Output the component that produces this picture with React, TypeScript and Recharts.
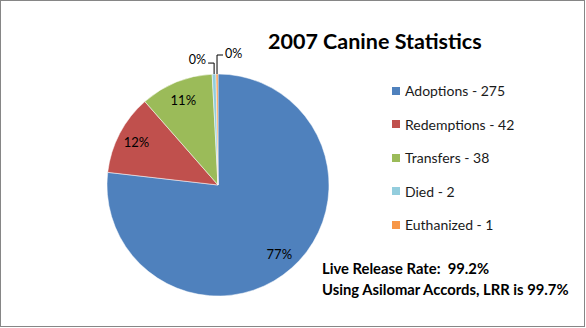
import React from 'react';
import { PieChart, Pie, Cell, Legend } from 'recharts';

const categories = ['Adoptions', 'Redemptions', 'Transfers', 'Died', 'Euthanized'];
const counts = [275, 42, 38, 2, 1];
const pctLabels = ['77%', '12%', '11%', '0%', '0%'];
const colors = ['#4F81BD', '#C0504D', '#9BBB59', '#93CDDD', '#F79646'];

const chartData = categories.map((name, i) => ({ name, value: counts[i] }));

const RADIAN = Math.PI / 180;
const FONT = 'Lato, "Open Sans", sans-serif';

function renderLabel(props: any) {
  const { cx, cy, midAngle, outerRadius, index } = props;
  const cos = Math.cos(-midAngle * RADIAN);
  const sin = Math.sin(-midAngle * RADIAN);
  if (index < 3) {
    const r = outerRadius * 0.83;
    return (
      <text x={cx + r * cos} y={cy + r * sin} fill="#000" fontSize={13} fontFamily={FONT}
        textAnchor="middle" dominantBaseline="central">
        {pctLabels[index]}
      </text>
    );
  }
  // tiny slices: elbow leader line above the pie
  const x0 = cx + outerRadius * cos;
  const y0 = cy + outerRadius * sin;
  const up = index === 3 ? 11 : 19;
  const dir = index === 3 ? -1 : 1;
  const yEnd = y0 - up;
  const xEnd = x0 + dir * 6;
  return (
    <g>
      <path d={`M${x0},${y0} V${yEnd} H${xEnd}`} stroke="#000" strokeWidth={1} fill="none" />
      <text x={xEnd + dir * 2} y={yEnd - (index === 3 ? 4 : 2)} fill="#000" fontSize={12.5} fontFamily={FONT}
        textAnchor={dir < 0 ? 'end' : 'start'} dominantBaseline="central">
        {pctLabels[index]}
      </text>
    </g>
  );
}

function LegendBox() {
  return (
    <div style={{ fontFamily: FONT, fontSize: 14, color: '#1a1a1a' }}>
      {categories.map((name, i) => (
        <div key={name} style={{ display: 'flex', alignItems: 'center', height: 33.5 }}>
          <span style={{ width: 8, height: 8, background: colors[i], marginRight: 5, display: 'inline-block' }} />
          <span>{`${name} - ${counts[i]}`}</span>
        </div>
      ))}
    </div>
  );
}

export default function App() {
  return (
    <div style={{ position: 'absolute', left: 0, top: 0, width: 586, height: 328, background: '#fff' }}>
      <div style={{ position: 'absolute', left: 0, top: 0, width: 583, height: 325, border: '1px solid #868686' }} />
      <div style={{ position: 'absolute', left: 268, top: 28, fontFamily: FONT, fontWeight: 700, fontSize: 21.5, color: '#000', whiteSpace: 'nowrap' }}>
        2007 Canine Statistics
      </div>
      <PieChart width={586} height={328} margin={{ top: 0, right: 0, bottom: 0, left: 0 }} style={{ position: 'absolute', left: 0, top: 0 }}>
        <Pie
          data={chartData}
          dataKey="value"
          nameKey="name"
          cx={218}
          cy={185}
          outerRadius={111}
          startAngle={90}
          endAngle={-270}
          stroke="#fff"
          strokeWidth={0.5}
          label={renderLabel}
          labelLine={false}
          isAnimationActive={false}
        >
          {chartData.map((d, i) => (
            <Cell key={d.name} fill={colors[i]} />
          ))}
        </Pie>
        <Legend
          content={() => <LegendBox />}
          wrapperStyle={{ left: 392, top: 74, width: 180 }}
        />
      </PieChart>
      <div style={{ position: 'absolute', left: 322, top: 258, fontFamily: FONT, fontWeight: 700, fontSize: 14.8, lineHeight: '21px', color: '#000', whiteSpace: 'pre' }}>
        <div>{'Live Release Rate:  99.2%'}</div>
        <div>{'Using Asilomar Accords, LRR is 99.7%'}</div>
      </div>
    </div>
  );
}
